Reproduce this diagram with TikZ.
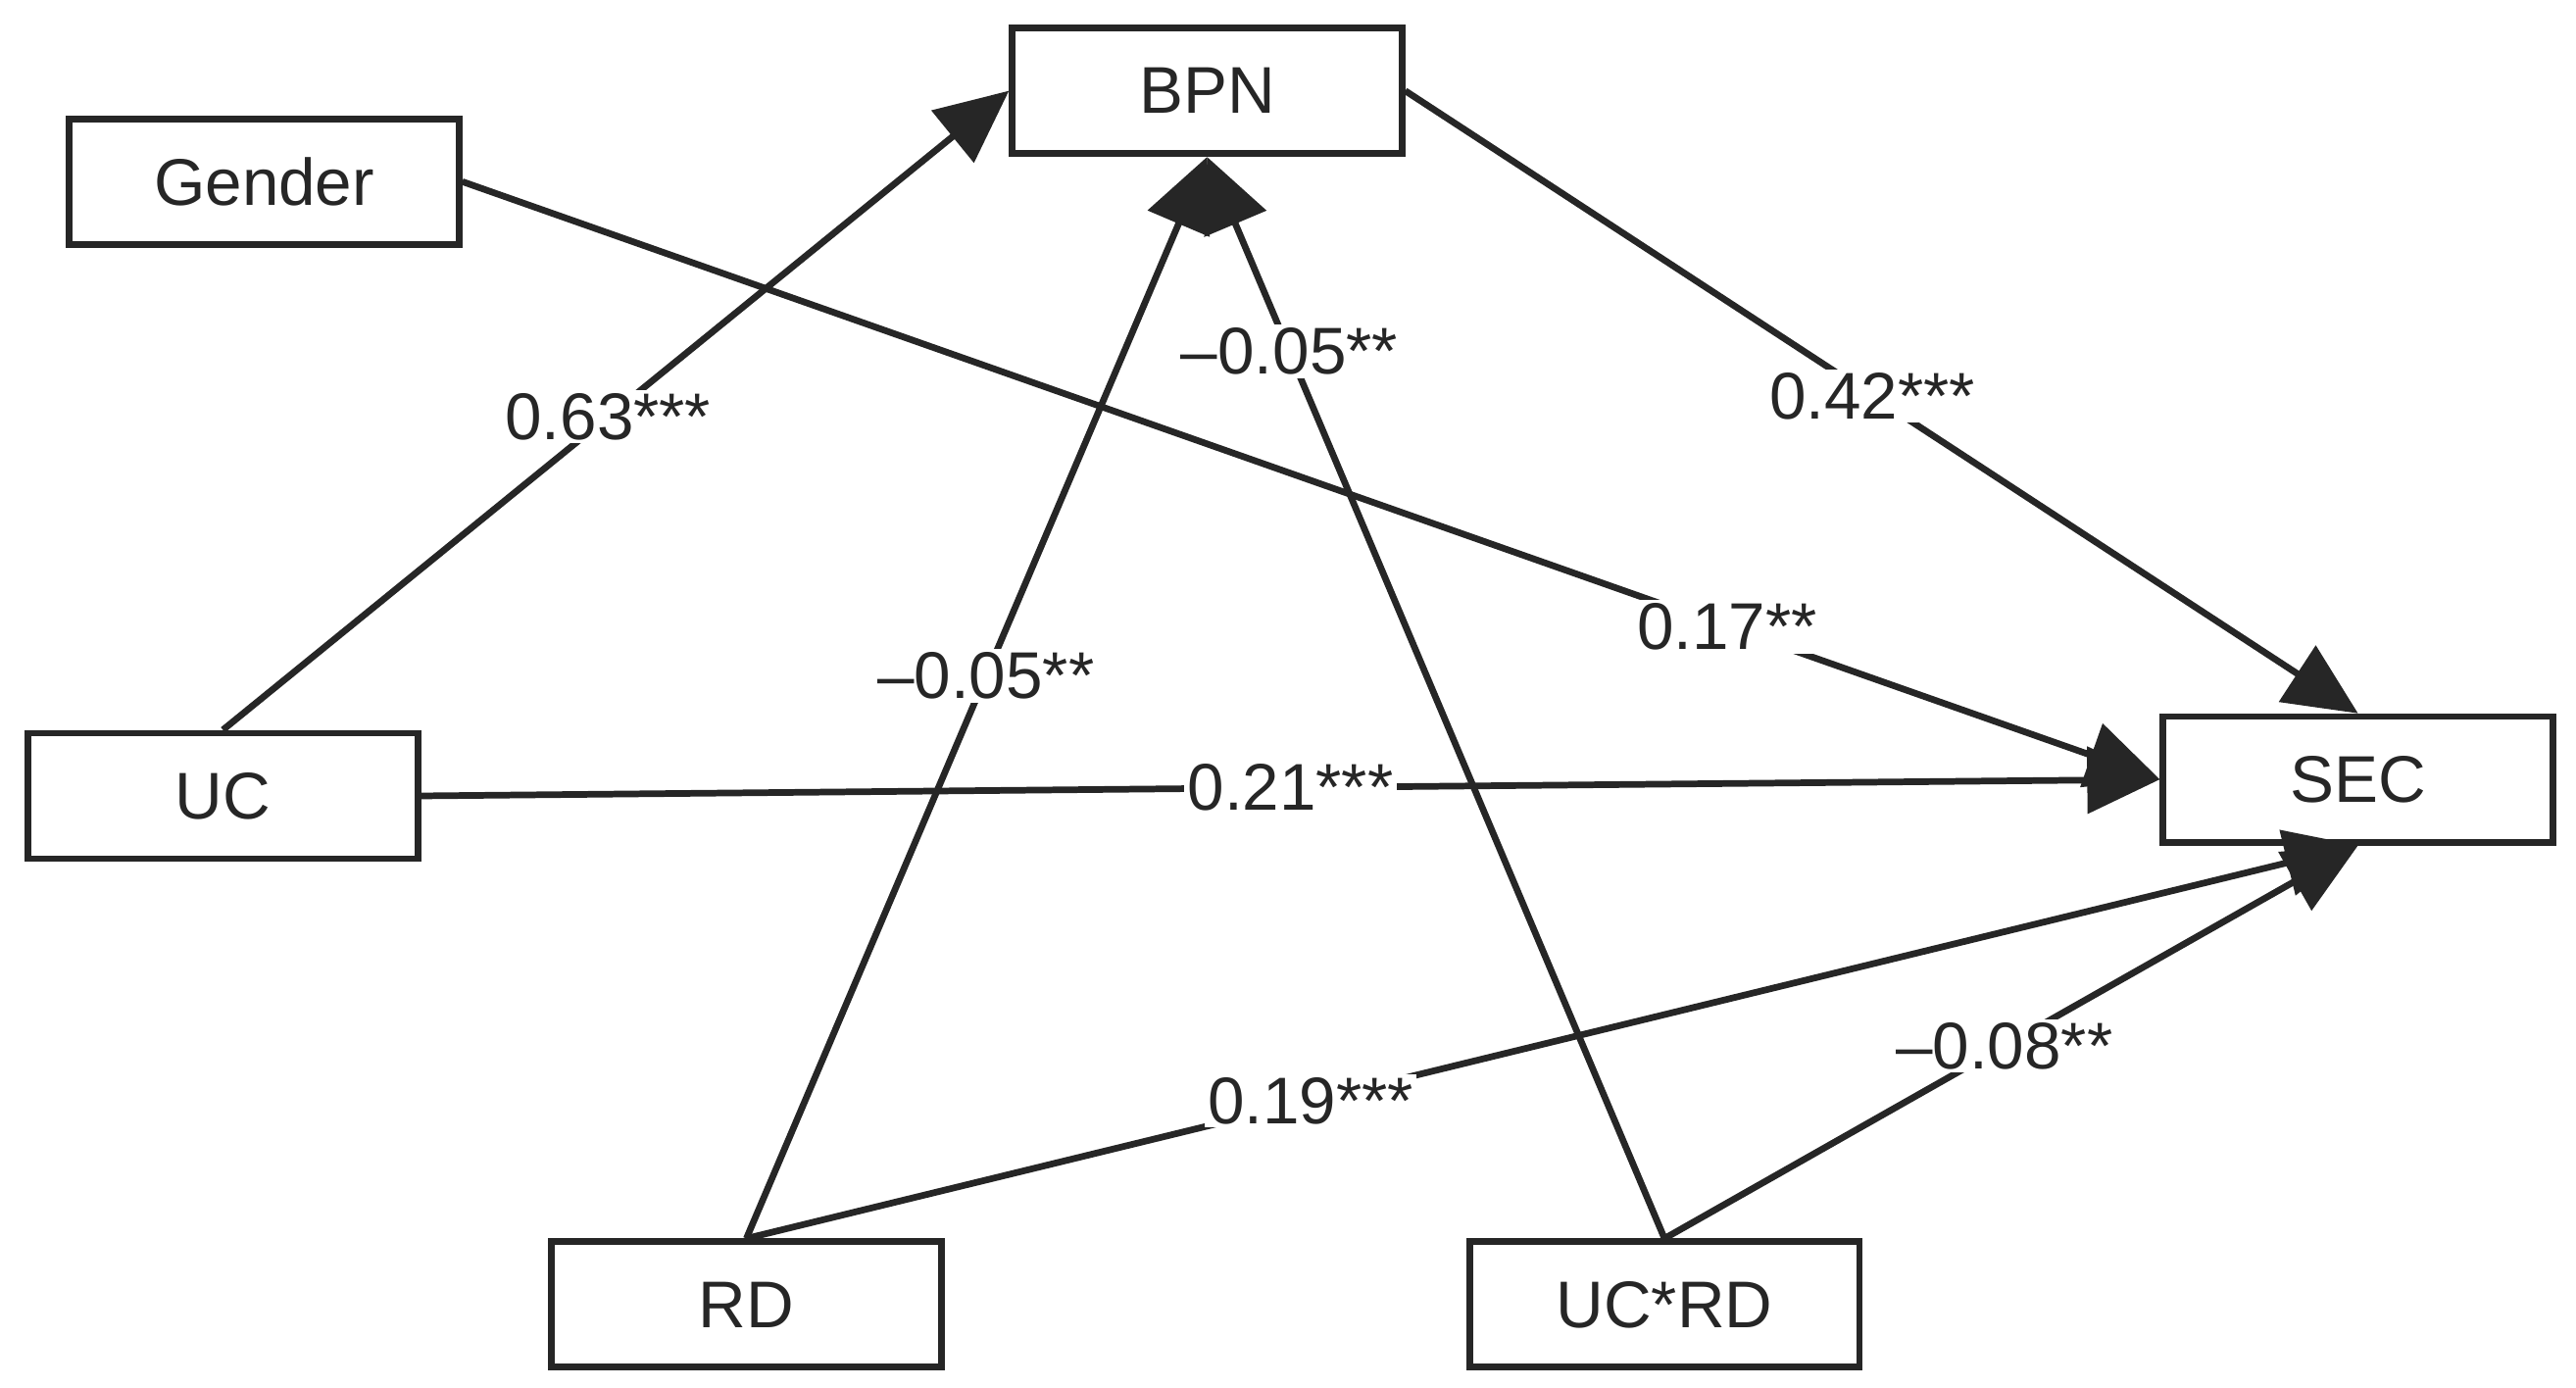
\documentclass[tikz,border=0pt]{standalone}
\usepackage{fontspec}
\setmainfont{Liberation Sans}
\usetikzlibrary{arrows.meta}
\begin{document}
\begin{tikzpicture}[x=0.5pt,y=-0.5pt,
  box/.style={draw=black!85,line width=2pt,minimum width=118pt,minimum height=38pt,inner sep=0pt,font=\fontsize{20}{24}\selectfont,text=black!85},
  edge/.style={draw=black!85,line width=2pt,-{Triangle[length=22pt,width=20pt]}},
  lab/.style={fill=white,inner sep=1pt,font=\fontsize{20}{24}\selectfont,text=black!85}]
\useasboundingbox (0,0) rectangle (1560,840);
\node[box] (bpn) at (731,55) {BPN};
\node[box] (gender) at (160,110) {Gender};
\node[box] (uc) at (135,482) {UC};
\node[box] (sec) at (1428,472) {SEC};
\node[box] (rd) at (452,790) {RD};
\node[box] (ucrd) at (1008,790) {UC*RD};
\draw[edge] (uc.north) -- (bpn.west) node[lab,pos=0.49] {0.63***};
\draw[edge] (rd.north) -- (bpn.south) node[lab,pos=0.52] {\textendash0.05**};
\draw[edge] (ucrd.north) -- (bpn.south) node[lab,pos=0.82] {\textendash0.05**};
\draw[edge] (bpn.east) -- (sec.north) node[lab,pos=0.49] {0.42***};
\draw[edge] (gender.east) -- (sec.west) node[lab,pos=0.745] {0.17**};
\draw[edge] (uc.east) -- (sec.west) node[lab,pos=0.5] {0.21***};
\draw[edge] (rd.north) -- (sec.south) node[lab,pos=0.35] {0.19***};
\draw[edge] (ucrd.north) -- (sec.south) node[lab,pos=0.49] {\textendash0.08**};
\end{tikzpicture}
\end{document}
